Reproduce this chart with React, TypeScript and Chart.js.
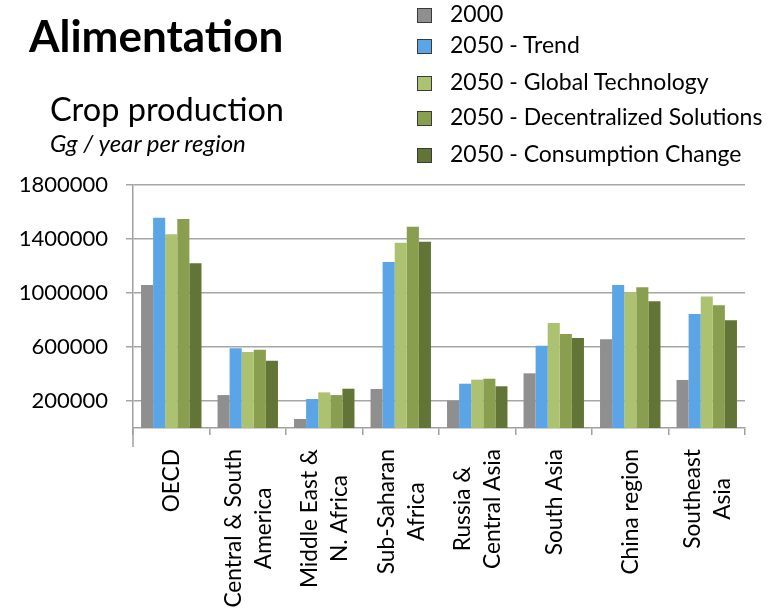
import React, { useEffect, useRef } from "react";
import { Chart, registerables } from "chart.js";

Chart.register(...registerables);

// ---- data ----
const categories: string[][] = [
  ["OECD"],
  ["Central & South", "America"],
  ["Middle East &", "N. Africa"],
  ["Sub-Saharan", "Africa"],
  ["Russia &", "Central Asia"],
  ["South Asia"],
  ["China region"],
  ["Southeast", "Asia"],
];

const seriesNames = [
  "2000",
  "2050 - Trend",
  "2050 - Global Technology",
  "2050 - Decentralized Solutions",
  "2050 - Consumption Change",
];

const values2000 = [1060000, 244000, 67000, 289000, 202000, 405000, 657000, 356000];
const valuesTrend = [1558000, 590000, 215000, 1230000, 328000, 610000, 1059000, 844000];
const valuesGlobalTech = [1435000, 563000, 264000, 1373000, 358000, 778000, 1005000, 975000];
const valuesDecentralized = [1548000, 580000, 244000, 1491000, 365000, 696000, 1042000, 909000];
const valuesConsumption = [1220000, 499000, 291000, 1380000, 309000, 667000, 938000, 798000];

const yTickValues = [200000, 600000, 1000000, 1400000, 1800000];

const seriesColors = ["#8f8f8f", "#5ba4e6", "#adc271", "#8a9e50", "#627537"];

const FONT = "Lato, Calibri, Carlito, sans-serif";
const legendBaselines = [22, 53, 90.5, 125, 162];

function baselineTop(baseline: number, fs: number) {
  return baseline - 0.887 * fs;
}

const xLabelPlugin = {
  id: "xLabels",
  afterDraw(chart: any) {
    const ctx = chart.ctx;
    const xs = chart.scales.x;
    const area = chart.chartArea;
    // axis line extension below the origin
    ctx.save();
    ctx.strokeStyle = "#a0a0a0";
    ctx.lineWidth = 1.5;
    ctx.beginPath();
    ctx.moveTo(area.left, area.bottom);
    ctx.lineTo(area.left, area.bottom + 19);
    ctx.stroke();
    ctx.restore();

    const fs = 22.7;
    const lineH = 30;
    ctx.save();
    ctx.font = `${fs}px ${FONT}`;
    ctx.fillStyle = "#000";
    categories.forEach((lines, i) => {
      const px = xs.getPixelForValue(i);
      const bw = Math.max(...lines.map((l) => ctx.measureText(l).width));
      ctx.save();
      ctx.translate(px, area.bottom + 21);
      ctx.rotate(-Math.PI / 2);
      ctx.textAlign = "center";
      ctx.textBaseline = "alphabetic";
      lines.forEach((l, j) => {
        const off = (j - (lines.length - 1) / 2) * lineH + 0.36 * fs;
        ctx.fillText(l, -bw / 2, off);
      });
      ctx.restore();
    });
    ctx.restore();
  },
};

export default function App() {
  const canvasRef = useRef<HTMLCanvasElement | null>(null);

  useEffect(() => {
    const canvas = canvasRef.current;
    if (!canvas) return;
    const allValues = [values2000, valuesTrend, valuesGlobalTech, valuesDecentralized, valuesConsumption];
    const chart = new Chart(canvas, {
      type: "bar",
      data: {
        labels: categories.map((c) => c.join(" ")),
        datasets: seriesNames.map((name, i) => ({
          label: name,
          data: allValues[i],
          backgroundColor: seriesColors[i],
          borderWidth: 0,
          barPercentage: 1,
          categoryPercentage: 0.79,
        })),
      },
      options: {
        animation: false,
        responsive: false,
        devicePixelRatio: 1,
        layout: { padding: { top: 185, right: 23, left: 0, bottom: 0 } },
        plugins: {
          legend: { display: false },
          tooltip: { enabled: false },
          title: { display: false },
        },
        scales: {
          x: {
            type: "category",
            offset: true,
            grid: {
              display: true,
              drawOnChartArea: false,
              offset: true,
              tickLength: 7,
              color: "#a0a0a0",
              lineWidth: 1.5,
            },
            border: { display: true, color: "#a0a0a0", width: 1.5 },
            ticks: { display: false },
            afterFit: (s: any) => {
              s.height = 185;
            },
          },
          y: {
            min: 0,
            max: 1800000,
            afterBuildTicks: (s: any) => {
              s.ticks = yTickValues.map((v) => ({ value: v }));
            },
            ticks: {
              color: "#000",
              font: { family: FONT, size: 22 },
              padding: 18,
              callback: (v: any) => String(v),
            },
            grid: { color: "#a6a6a6", lineWidth: 1.5, tickLength: 7 },
            border: { display: true, color: "#a0a0a0", width: 1.5 },
            afterFit: (s: any) => {
              s.width = 133;
            },
          },
        },
      },
      plugins: [xLabelPlugin],
    });
    return () => chart.destroy();
  }, []);

  const textBase: React.CSSProperties = {
    position: "absolute",
    fontFamily: FONT,
    color: "#000",
    whiteSpace: "nowrap",
    margin: 0,
  };

  return (
    <div style={{ position: "absolute", left: 0, top: 0, width: 768, height: 613, background: "#fff", overflow: "hidden" }}>
      <canvas ref={canvasRef} width={768} height={613} style={{ position: "absolute", left: 0, top: 0, width: 768, height: 613 }} />
      <div style={{ ...textBase, left: 29, top: baselineTop(52, 44), fontSize: 44, lineHeight: "44px", fontWeight: 700 }}>
        Alimentation
      </div>
      <div style={{ ...textBase, left: 50, top: baselineTop(122, 32.5), fontSize: 32.5, lineHeight: "32.5px" }}>
        Crop production
      </div>
      <div style={{ ...textBase, left: 50, top: baselineTop(152, 24), fontSize: 24, lineHeight: "24px", fontStyle: "italic" }}>
        Gg / year per region
      </div>
      {seriesNames.map((name, i) => (
        <div key={name}>
          <div
            style={{
              position: "absolute",
              left: 417,
              top: legendBaselines[i] - 14.5,
              width: 13,
              height: 13,
              background: seriesColors[i],
              border: "1px solid #3a3a3a",
            }}
          />
          <div style={{ ...textBase, left: 450, top: baselineTop(legendBaselines[i], 23), fontSize: 23, lineHeight: "23px" }}>
            {name}
          </div>
        </div>
      ))}
    </div>
  );
}
